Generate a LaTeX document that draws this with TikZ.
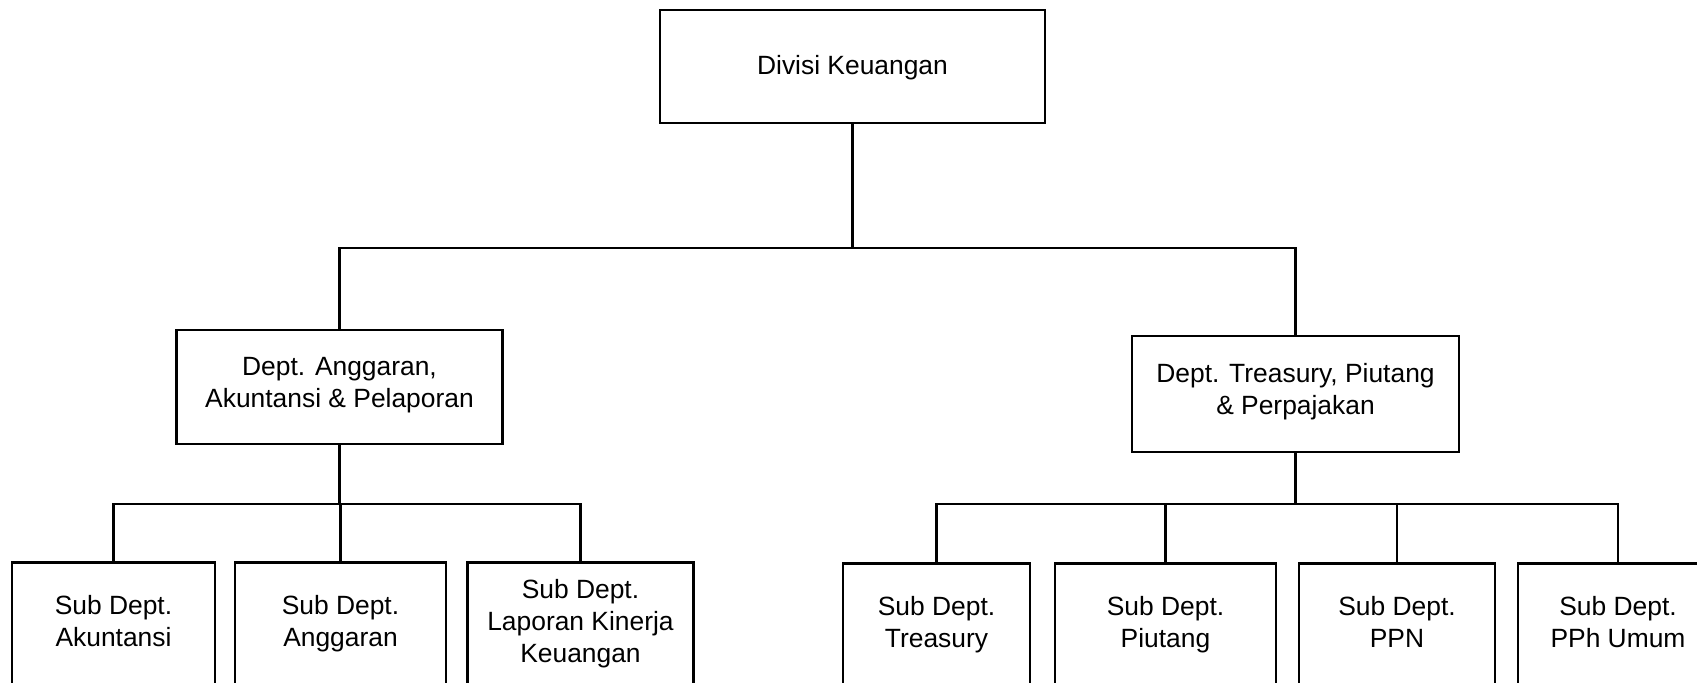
\documentclass[tikz,border=0pt]{standalone}
\usepackage{fontspec}
\setmainfont{Liberation Sans}
\begin{document}
\begin{tikzpicture}[x=0.5pt,y=-0.5pt,
  unit/.style={draw=black, line width=1.4pt, fill=white, inner sep=0pt, align=center,
    font=\fontsize{13.2}{16}\selectfont,
    execute at begin node=\rule{0pt}{12.5pt},
    execute at end node=\strut},
  subunit/.style={unit, anchor=north, minimum height=63pt},
  link/.style={line width=1.4pt, line cap=rect}]
\useasboundingbox (0,0) rectangle (1697,683);
\clip (0,0) rectangle (1697,683);

% division head
\node[unit, minimum width=192.5pt, minimum height=56.5pt] (div) at (852.5,66.5) {Divisi Keuangan};

% departments
\node[unit, minimum width=163pt, minimum height=57pt] (deptA) at (339.5,387) {Dept. Anggaran,\\Akuntansi \& Pelaporan};
\node[unit, minimum width=163.5pt, minimum height=58pt] (deptT) at (1295.5,394) {Dept. Treasury, Piutang\\\& Perpajakan};

% sub departments under Anggaran, Akuntansi & Pelaporan
\node[subunit, minimum width=101.5pt] (sAk) at (113.5,561) {Sub Dept.\\Akuntansi};
\node[subunit, minimum width=105.5pt] (sAg) at (340.5,561) {Sub Dept.\\Anggaran};
\node[subunit, minimum width=113pt] (sLk) at (580.5,561) {Sub Dept.\\Laporan Kinerja\\Keuangan};

% sub departments under Treasury, Piutang & Perpajakan
\node[subunit, minimum width=93.5pt] (sTr) at (936.5,562) {Sub Dept.\\Treasury};
\node[subunit, minimum width=110.5pt] (sPi) at (1165.5,562) {Sub Dept.\\Piutang};
\node[subunit, minimum width=98pt] (sPpn) at (1397,562) {Sub Dept.\\PPN};
\node[subunit, minimum width=100pt] (sPph) at (1618,562) {Sub Dept.\\PPh Umum};

% bus levels
\coordinate (bus) at (0,248);
\coordinate (busA) at (0,504);
\coordinate (busT) at (0,504);

% division to departments
\draw[link] (div.south) -- (div.south |- bus);
\draw[link] (deptA.north) -- (deptA.north |- bus) -- (deptT.north |- bus) -- (deptT.north);

% department A to its sub departments
\draw[link] (deptA.south) -- (deptA.south |- busA);
\draw[link] (sAk.north) -- (sAk.north |- busA) -- (sLk.north |- busA) -- (sLk.north);
\draw[link] (sAg.north) -- (sAg.north |- busA);

% department T to its sub departments
\draw[link] (deptT.south) -- (deptT.south |- busT);
\draw[link] (sTr.north) -- (sTr.north |- busT) -- (sPph.north |- busT) -- (sPph.north);
\draw[link] (sPi.north) -- (sPi.north |- busT);
\draw[link] (sPpn.north) -- (sPpn.north |- busT);
\end{tikzpicture}
\end{document}
